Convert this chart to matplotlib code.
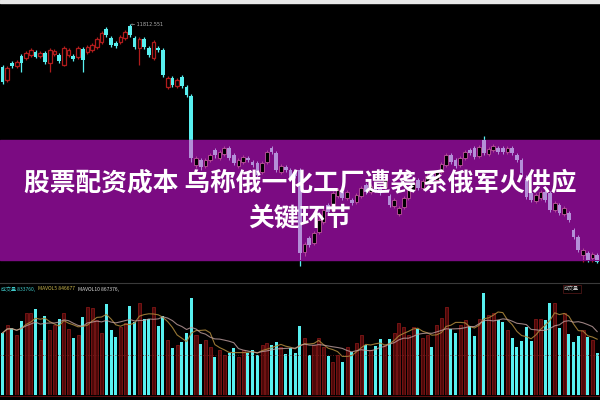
import matplotlib
matplotlib.use("Agg")
import matplotlib.pyplot as plt
from matplotlib.patches import Rectangle
import numpy as np
import pandas as pd

plt.rcParams['font.family'] = ['Noto Sans CJK SC', 'DejaVu Sans']

# 日线数据
opens = [10933, 10665, 11015, 10953, 11159, 11118, 11180, 11242, 11159, 11221,
         11015, 11201, 11180, 10974, 11180, 11159, 11139, 11304, 11242, 11283,
         11345, 11448, 11716, 11530, 11427, 11448, 11530, 11777, 11530, 11324,
         11510, 11324, 11118, 11324, 11283, 10521, 10706, 10541, 10727, 10521,
         10335, 8914, 9017, 8893, 9017, 9223, 9058, 9141, 9264, 9120,
         8893, 8976, 9058, 8976, 8955, 8770, 8976, 9264, 9161, 8770,
         8873, 8811, 8770, 8811, 7122, 7410, 7307, 7534, 7740, 8090,
         7987, 8275, 8358, 8234, 8193, 8152, 8275, 8502, 8358, 8502,
         8440, 8461, 8275, 8069, 7905, 8049, 8234, 8399, 8605, 8440,
         8564, 8708, 8605, 8770, 8914, 9120, 9017, 8914, 9058, 9223,
         9264, 9099, 9429, 9141, 9223, 9264, 9264, 9182, 9264, 9120,
         9017, 8605, 8337, 8172, 8234, 8358, 8337, 7987, 8090, 7905,
         7925, 7575, 7431, 7060, 7101, 6998, 7060]
closes = [10624, 10912, 10953, 11036, 11015, 11221, 11283, 11139, 11221, 11036,
          11283, 11262, 11056, 11324, 11283, 11098, 11324, 11077, 11345, 11386,
          11510, 11633, 11592, 11386, 11365, 11551, 11654, 11592, 11345, 11510,
          11345, 11180, 11448, 11283, 10768, 10706, 10562, 10665, 10541, 10356,
          9058, 9058, 8873, 9017, 9120, 9120, 9182, 9264, 9058, 8955,
          9017, 9079, 9017, 8914, 8708, 8955, 9182, 9182, 8811, 8893,
          8811, 8646, 8687, 7101, 7287, 7266, 7513, 7781, 7987, 7946,
          8337, 8399, 8234, 8358, 8131, 8296, 8440, 8358, 8481, 8399,
          8337, 8605, 8090, 8193, 8028, 8234, 8399, 8543, 8440, 8584,
          8687, 8584, 8770, 8935, 9120, 8976, 8893, 9058, 9182, 9161,
          9079, 9285, 9161, 9244, 9305, 9182, 9182, 9264, 9161, 9017,
          8749, 8255, 8193, 8296, 8358, 8193, 7987, 8131, 7925, 8028,
          7781, 7431, 7163, 7163, 6957, 7081, 6916]
highs = [10974, 10953, 11056, 11077, 11201, 11262, 11324, 11283, 11262, 11262,
         11324, 11304, 11221, 11365, 11324, 11201, 11365, 11345, 11386, 11427,
         11551, 11674, 11757, 11571, 11468, 11592, 11695, 11812.551, 11571, 11551,
         11551, 11365, 11489, 11365, 11324, 10747, 10747, 10706, 10768, 10562,
         10377, 9099, 9058, 9058, 9161, 9264, 9223, 9305, 9305, 9161,
         9058, 9120, 9099, 9017, 8996, 8996, 9223, 9305, 9202, 8935,
         8914, 8852, 8811, 8852, 7328, 7451, 7554, 7822, 8028, 8131,
         8378, 8440, 8399, 8399, 8234, 8337, 8481, 8543, 8523, 8543,
         8481, 8646, 8317, 8234, 8069, 8275, 8440, 8584, 8646, 8626,
         8729, 8749, 8811, 8976, 9161, 9161, 9058, 9099, 9223, 9264,
         9305, 9326, 9511, 9285, 9347, 9305, 9305, 9305, 9305, 9161,
         9058, 8708, 8378, 8337, 8399, 8399, 8378, 8172, 8131, 8069,
         7966, 7616, 7472, 7204, 7142, 7122, 7101]
lows = [10583, 10624, 10912, 10912, 10830, 11077, 11139, 11118, 11118, 10995,
        10830, 11159, 11015, 10953, 11139, 11056, 11098, 10830, 11201, 11242,
        11304, 11407, 11551, 11345, 11324, 11407, 11489, 11551, 11304, 10974,
        11304, 11139, 11077, 11242, 10727, 10480, 10521, 10500, 10500, 10315,
        8976, 8852, 8811, 8852, 8976, 9058, 9017, 9099, 9017, 8914,
        8852, 8935, 8976, 8873, 8667, 8729, 8935, 9141, 8770, 8729,
        8770, 8605, 8646, 6832.802, 7039, 7225, 7266, 7493, 7699, 7905,
        7946, 8234, 8193, 8193, 8090, 8111, 8234, 8317, 8317, 8358,
        8296, 8420, 8049, 8028, 7863, 8008, 8193, 8358, 8399, 8399,
        8523, 8543, 8564, 8729, 8873, 8935, 8852, 8873, 9017, 9120,
        9038, 9058, 9120, 9099, 9182, 9141, 9141, 9141, 9120, 8976,
        8708, 8214, 8152, 8131, 8193, 8152, 7946, 7946, 7884, 7863,
        7740, 7390, 7122, 6916, 6916, 6916, 6895]
# 成交量 (万手)
volumes = [124, 140, 134, 120, 148, 164, 164, 172, 110, 158,
           130, 140, 152, 164, 132, 114, 120, 156, 176, 174,
           150, 124, 182, 130, 116, 136, 144, 178, 146, 184,
           152, 152, 176, 138, 158, 110, 94, 100, 106, 124,
           194, 120, 102, 110, 96, 76, 90, 80, 84, 94,
           76, 90, 84, 90, 80, 100, 104, 100, 106, 96,
           82, 94, 84, 138, 114, 80, 100, 114, 96, 78,
           66, 80, 66, 96, 86, 104, 120, 100, 90, 98,
           112, 100, 112, 124, 144, 136, 120, 136, 132, 114,
           120, 96, 140, 154, 176, 132, 124, 140, 150, 138,
           118, 152, 204, 160, 164, 150, 146, 130, 114, 96,
           108, 136, 108, 152, 152, 150, 184, 184, 134, 164,
           122, 106, 118, 130, 116, 110, 84]

title_1 = "股票配资成本 乌称俄一化工厂遭袭 系俄军火供应"
title_2 = "关键环节"
vol_legend = [("成交量 833760,", "#3fc8c8"), ("MAVOL5 846677", "#c8b44a"),
              ("MAVOL10 867376,", "#d8d8d8")]

o = np.array(opens)
c = np.array(closes)
h = np.array(highs)
l = np.array(lows)
v = np.array(volumes)
x = np.arange(len(o))
up = c >= o

CYAN = "#58f0f0"
RED = "#b01c1c"
XLIM = (-0.53, 126.6)


def draw_candles(ax, up_color, down_color, lw=0.9, width=0.78):
    body_lo = np.minimum(o, c)
    body_h = np.maximum(np.abs(c - o), 12)
    ax.vlines(x[up], l[up], h[up], color=up_color, lw=lw, zorder=1)
    ax.vlines(x[~up], l[~up], h[~up], color=down_color, lw=lw, zorder=1)
    ax.bar(x[up], body_h[up], bottom=body_lo[up], width=width,
           facecolor="black", edgecolor=up_color, linewidth=lw, zorder=2)
    ax.bar(x[~up], body_h[~up], bottom=body_lo[~up], width=width,
           color=down_color, linewidth=0, zorder=2)


fig = plt.figure(figsize=(6, 4), dpi=100, facecolor="black")

# 主图 K线
ax = fig.add_axes([0, 0.33, 1, 0.6575])
ax.set_facecolor("black")
draw_candles(ax, RED, CYAN)
ax.set_xlim(*XLIM)
ax.set_ylim(6792, 12210)
ax.axis("off")
imax = int(np.argmax(h))
imin = int(np.argmin(l))
ax.annotate("← %.3f" % h[imax], (x[imax] + 0.3, h[imax]), fontsize=3.5,
            color="#b0b0b0", va="center", ha="left", family="DejaVu Sans")
ax.annotate("← %.3f" % l[imin], (x[imin] + 0.3, l[imin] - 60), fontsize=3.5,
            color="#b0b0b0", va="top", ha="left", family="DejaVu Sans")

# 成交量
axv = fig.add_axes([0, 0.0125, 1, 0.2625])
axv.set_facecolor("black")
axv.bar(x[~up], v[~up], width=0.64, color=CYAN, linewidth=0)
axv.bar(x[up], v[up], width=0.64, facecolor="#4e0909",
        edgecolor="#801616", linewidth=0.6)
ma5 = pd.Series(v).rolling(5, min_periods=1).mean()
ma10 = pd.Series(v).rolling(10, min_periods=1).mean()
axv.plot(x, ma5, color="#a8843a", lw=0.8, alpha=0.9)
axv.plot(x, ma10, color="#c0a0a0", lw=0.8, alpha=0.8)
axv.axhline(80, color="#7a2020", lw=0.6, ls=(0, (1, 2)))
axv.set_xlim(*XLIM)
axv.set_ylim(0, 210)
axv.axis("off")

# 分隔线和顶部栏
fig.add_artist(plt.Line2D([0, 1], [1 - 283 / 400] * 2, color="#3a3a3a", lw=0.8))
fig.add_artist(plt.Line2D([0, 1], [1 - 396 / 400] * 2, color="#5a1010", lw=0.8))
fig.add_artist(Rectangle((0, 0.9925), 1, 0.0075, transform=fig.transFigure,
                         color="#e8e8e8", zorder=0.5))

xt = 0.002
for txt, col in vol_legend:
    t = fig.text(xt, 1 - 289 / 400, txt, fontsize=3.6, color=col, va="center")
    fig.canvas.draw()
    bb = t.get_window_extent()
    xt = (bb.x1 + 3) / 600
fig.text(0.965, 1 - 289 / 400, "成交量", fontsize=3.6, color="#c0c0c0",
         va="center", ha="right",
         bbox=dict(boxstyle="square,pad=0.3", fc="black", ec="#5a1a1a", lw=0.5))

# 标题横幅
fig.add_artist(Rectangle((0, 0.35), 1, 0.30, transform=fig.transFigure,
                         color="#7b0b82", zorder=1))
ax_over = fig.add_axes([0, 0.35, 1, 0.30], zorder=2)
ax_over.patch.set_alpha(0)
draw_candles(ax_over, "#b04a94", "#b48fd8", lw=0.7)
ax_over.set_xlim(*XLIM)
ax_over.set_ylim(12313 - 20.6 * 260, 12313 - 20.6 * 140)
ax_over.axis("off")

fig.text(0.5, 1 - 183 / 400, title_1, fontsize=18.5, fontweight="bold",
         color="white", ha="center", va="center", zorder=3)
fig.text(0.5, 1 - 218 / 400, title_2, fontsize=18.5, fontweight="bold",
         color="white", ha="center", va="center", zorder=3)

fig.savefig("out.png", dpi=100, facecolor="black")
